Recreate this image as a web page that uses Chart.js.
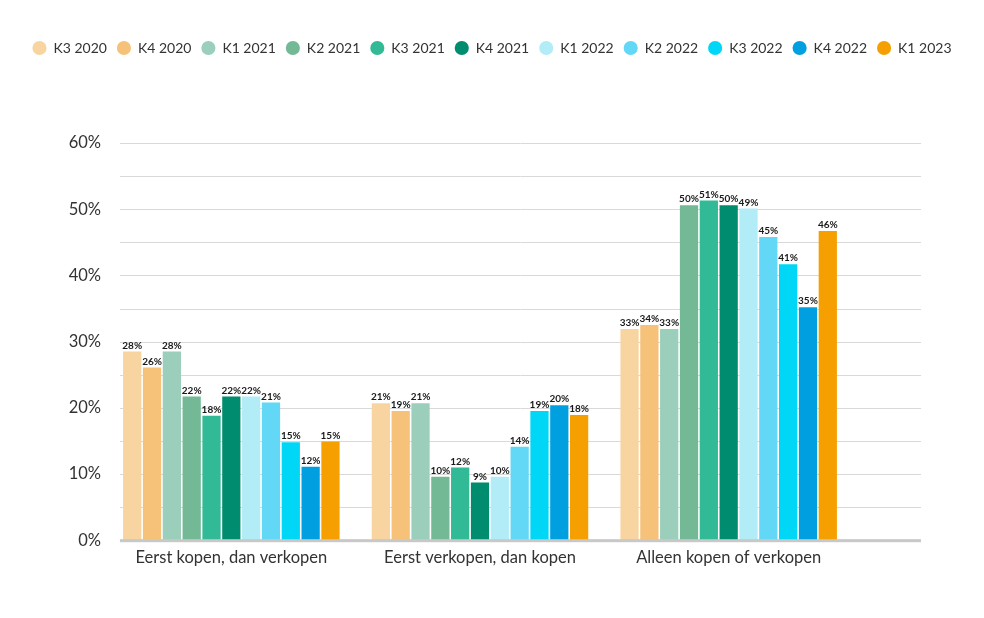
<!DOCTYPE html>
<html lang="nl">
<head>
<meta charset="utf-8">
<title>Kopen en verkopen</title>
<script src="https://cdn.jsdelivr.net/npm/chart.js@4.4.1/dist/chart.umd.min.js"></script>
<style>
    html, body { margin: 0; padding: 0; background: #ffffff; }
    #wrap { width: 984px; height: 618px; }
</style>
</head>
<body>
<div id="wrap"><canvas id="grafiek"></canvas></div>
<script>
// Categorieën (x-as) en kwartalen (legenda)
var categorieen = ['Eerst kopen, dan verkopen', 'Eerst verkopen, dan kopen', 'Alleen kopen of verkopen'];
var kwartalen = ['K3 2020', 'K4 2020', 'K1 2021', 'K2 2021', 'K3 2021', 'K4 2021',
                 'K1 2022', 'K2 2022', 'K3 2022', 'K4 2022', 'K1 2023'];
var kleuren = ['#f8d4a1', '#f6c27a', '#9ccebc', '#73b995', '#32b996', '#008c6e',
               '#b2ecf7', '#62d8f6', '#00d7f7', '#00a0e0', '#f5a000'];

// Hoogte van de staven, per categorie
var eerstKopen    = [28.5, 26.1, 28.5, 21.7, 18.8, 21.7, 21.7, 20.8, 14.8, 11.1, 14.9];
var eerstVerkopen = [20.7, 19.5, 20.7, 9.6, 11.0, 8.7, 9.6, 14.1, 19.5, 20.4, 18.9];
var alleen        = [31.9, 32.5, 31.9, 50.6, 51.3, 50.6, 50.1, 45.8, 41.7, 35.2, 46.7];

// De percentages die boven de staven staan
var labelsEerstKopen    = [28, 26, 28, 22, 18, 22, 22, 21, 15, 12, 15];
var labelsEerstVerkopen = [21, 19, 21, 10, 12, 9, 10, 14, 19, 20, 18];
var labelsAlleen        = [33, 34, 33, 50, 51, 50, 49, 45, 41, 35, 46];

// y-as
var yTicks = [0, 10, 20, 30, 40, 50, 60];

document.addEventListener("DOMContentLoaded", function () {
    tekenGrafiek();
});

function tekenGrafiek() {
    Chart.defaults.font.family = 'Lato, "Open Sans", sans-serif';
    Chart.defaults.color = '#333333';

    var datasets = [];
    for (var i = 0; i < kwartalen.length; i++) {
        datasets.push({
            label: kwartalen[i],
            data: [eerstKopen[i], eerstVerkopen[i], alleen[i]],
            tekst: [labelsEerstKopen[i], labelsEerstVerkopen[i], labelsAlleen[i]],
            backgroundColor: kleuren[i],
            borderWidth: 0,
            categoryPercentage: 0.877,
            barPercentage: 0.92
        });
    }

    // ruimte onder de legenda
    var legendaRuimte = {
        id: 'legendaRuimte',
        beforeInit: function (chart) {
            var origFit = chart.legend.fit;
            chart.legend.fit = function () {
                origFit.bind(chart.legend)();
                this.height += 78;
            };
        }
    };

    // rasterlijnen lopen verder door dan het plotgebied
    var raster = {
        id: 'raster',
        beforeDatasetsDraw: function (chart) {
            var ctx = chart.ctx;
            var y = chart.scales.y;
            ctx.save();
            ctx.strokeStyle = '#d9d9d9';
            ctx.lineWidth = 1;
            for (var v = 5; v <= 60; v += 5) {
                var py = Math.round(y.getPixelForValue(v)) + 0.5;
                ctx.beginPath();
                ctx.moveTo(120, py);
                ctx.lineTo(921, py);
                ctx.stroke();
            }
            ctx.restore();
        },
        afterDatasetsDraw: function (chart) {
            var ctx = chart.ctx;
            var y = chart.scales.y;
            var py = y.getPixelForValue(0);
            ctx.save();
            ctx.fillStyle = '#c8c8c8';
            ctx.fillRect(120, py - 1, 801, 3);

            // percentages boven de staven
            ctx.fillStyle = '#1a1a1a';
            ctx.font = 'bold 10px Lato, sans-serif';
            ctx.textAlign = 'center';
            ctx.textBaseline = 'bottom';
            chart.data.datasets.forEach(function (ds, d) {
                var meta = chart.getDatasetMeta(d);
                meta.data.forEach(function (bar, j) {
                    ctx.fillText(ds.tekst[j] + '%', bar.x, bar.y - 1);
                });
            });
            ctx.restore();
        }
    };

    var ctx = document.getElementById('grafiek').getContext('2d');
    new Chart(ctx, {
        type: 'bar',
        data: {
            labels: categorieen,
            datasets: datasets
        },
        options: {
            responsive: true,
            maintainAspectRatio: false,
            animation: false,
            layout: {
                padding: { top: 31, bottom: 42, left: 0, right: 0 }
            },
            scales: {
                x: {
                    grid: { display: false, drawTicks: false },
                    border: { display: false },
                    ticks: { padding: 8, font: { size: 16.5 }, color: '#333333' }
                },
                y: {
                    min: 0,
                    max: 60,
                    afterBuildTicks: function (scale) {
                        scale.ticks = yTicks.map(function (v) { return { value: v }; });
                    },
                    afterFit: function (scale) {
                        scale.width = 107;
                    },
                    grid: { display: false, drawTicks: false },
                    border: { display: false },
                    ticks: {
                        padding: 6,
                        font: { size: 16.5 },
                        color: '#333333',
                        callback: function (value) { return value + '%'; }
                    }
                },
                rechts: {
                    position: 'right',
                    grid: { display: false, drawTicks: false },
                    border: { display: false },
                    ticks: { display: false },
                    afterFit: function (scale) {
                        scale.width = 131;
                    }
                }
            },
            plugins: {
                legend: {
                    position: 'top',
                    labels: {
                        usePointStyle: true,
                        pointStyle: 'circle',
                        boxWidth: 16,
                        boxHeight: 10,
                        padding: 10,
                        color: '#333333',
                        font: { size: 14 }
                    }
                },
                tooltip: { enabled: false }
            }
        },
        plugins: [legendaRuimte, raster]
    });
}
</script>
</body>
</html>
